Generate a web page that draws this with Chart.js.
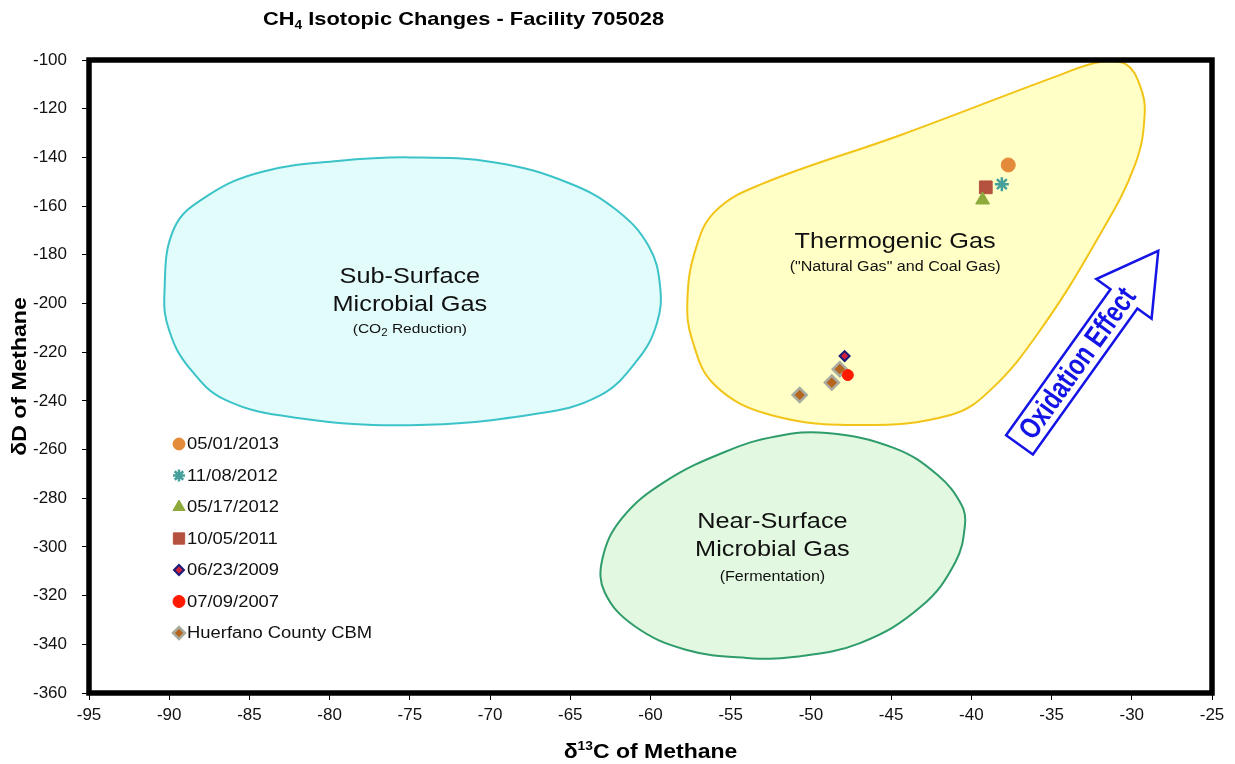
<!DOCTYPE html>
<html>
<head>
<meta charset="utf-8">
<script src="https://cdn.jsdelivr.net/npm/chart.js@4.4.1/dist/chart.umd.min.js"></script>
<style>
  body { margin: 0; background: #fff; }
  #wrap { width: 1235px; height: 764px; }
</style>
</head>
<body>
<div id="wrap"><canvas id="isoChart" width="1235" height="764"></canvas></div>
<script>
// samples as [d13C, dD]
const seriesLabels = ['05/01/2013', '11/08/2012', '05/17/2012', '10/05/2011', '06/23/2009', '07/09/2007', 'Huerfano County CBM'];
const pts20130501 = [[-37.7, -143.1]];
const pts20121108 = [[-38.1, -151.0]];
const pts20120517 = [[-39.3, -157.5]];
const pts20111005 = [[-39.1, -152.3]];
const pts20090623 = [[-47.9, -221.6]];
const pts20070709 = [[-47.7, -229.4]];
const ptsHuerfano = [[-48.2, -227.0], [-48.7, -232.5], [-50.7, -237.6]];

// axis ticks
const xTicks = { min: -95, max: -25, step: 5 };
const yTicks = { min: -360, max: -100, step: 20 };

// genetic fields, outlines (closed loops)
const subSurfaceOutline = [
  [-75, -140], [-69.6, -142.2], [-65.1, -150.5], [-62.1, -161.7], [-60.1, -176.6], [-59.4, -193.1],
  [-59.6, -208.1], [-60.8, -223.1], [-63.2, -238.0], [-67.3, -245.5], [-75, -250], [-82, -247],
  [-86.5, -239.6], [-88.8, -226], [-90, -211.1], [-90.3, -196.1], [-89.7, -169.2], [-87.6, -155.7],
  [-84.2, -145.9], [-79.5, -141.5]
];
const nearSurfaceOutline = [
  [-49.0, -253.2], [-44.8, -259.4], [-42.1, -270.5], [-40.6, -282.9], [-40.4, -291.1], [-41.0, -306.3],
  [-43.1, -324.3], [-46.9, -339.4], [-51.1, -345.2], [-54.0, -345.6], [-57.8, -342.2], [-61.0, -332.5],
  [-62.85, -318.7], [-63.0, -305], [-61.8, -288.4], [-59.1, -273.2], [-55.3, -260.8], [-52.2, -254.6]
];
const thermogenicOutline = [
  [-44.4, -130.8], [-34.5, -106.2], [-32.0, -100.8], [-30.4, -101.6], [-29.5, -110.3], [-29.2, -122.6],
  [-29.8, -143.1], [-32.0, -171.9], [-35.7, -210.9], [-38.8, -235.5], [-41.3, -245.8], [-46.9, -249.9],
  [-52.5, -245.8], [-56.0, -233.5], [-57.4, -215], [-57.7, -198.6], [-57.2, -178.0], [-56.0, -162.4],
  [-53.2, -151.3]
];

const toXY = arr => arr.map(p => ({ x: p[0], y: p[1] }));
const fontFam = "'Liberation Sans', Arial, Helvetica, sans-serif";
const stretch = 1.15; // text in the original is a bit wide

const pointSets = [
  { data: pts20130501, style: 'circle', radius: 7, legR: 6, bg: '#e38b3a', border: '#e38b3a', bw: 1 },
  { data: pts20121108, style: 'star', radius: 7, legR: 6, bg: '#45a09c', border: '#45a09c', bw: 2.5 },
  { data: pts20120517, style: 'triangle', radius: 8, legR: 7, bg: '#8dab3c', border: '#8dab3c', bw: 1 },
  { data: pts20111005, style: 'rect', radius: 9, legR: 8, bg: '#b5523f', border: '#b5523f', bw: 1 },
  { data: pts20090623, style: 'rectRot', radius: 5, legR: 5, bg: '#d0203c', border: '#1c1c78', bw: 2 },
  { data: pts20070709, style: 'circle', radius: 5.5, legR: 6, bg: '#ff1a00', border: '#ff1a00', bw: 1 },
  { data: ptsHuerfano, style: 'rectRot', radius: 7, legR: 6, bg: '#b5651e', border: '#a9aba0', bw: 2.5 }
];

const datasets = pointSets.map((s, i) => ({
  type: 'scatter',
  label: seriesLabels[i],
  data: toXY(s.data),
  pointStyle: s.style,
  pointRadius: s.radius,
  pointBackgroundColor: s.bg,
  pointBorderColor: s.border,
  pointBorderWidth: s.bw,
  showLine: false,
  order: 0
}));

function field(outline, stroke, fill) {
  return {
    type: 'line',
    label: '',
    isField: true,
    data: toXY(outline),
    borderColor: stroke,
    backgroundColor: fill,
    borderWidth: 2,
    fill: 'shape',
    tension: 0.4,
    pointRadius: 0,
    order: 10
  };
}
datasets.push(field(subSurfaceOutline, '#3cc3c8', '#e2fcfc'));
datasets.push(field(thermogenicOutline, '#f2c418', '#ffffc6'));
datasets.push(field(nearSurfaceOutline, '#2f9c6c', '#e2f8e0'));

// text blocks inside the fields, anchored in data units
const fieldText = [
  { x: -75, y: -189, parts: [{ t: 'Sub-Surface', s: 22 }] },
  { x: -75, y: -200.6, parts: [{ t: 'Microbial Gas', s: 22 }] },
  { x: -75, y: -210.5, parts: [{ t: '(CO', s: 13.5 }, { t: '2', s: 10, dy: 4 }, { t: ' Reduction)', s: 13.5 }] },
  { x: -44.75, y: -174.7, parts: [{ t: 'Thermogenic Gas', s: 22 }] },
  { x: -44.75, y: -185, parts: [{ t: '("Natural Gas" and Coal Gas)', s: 14 }] },
  { x: -52.4, y: -289.7, parts: [{ t: 'Near-Surface', s: 22 }] },
  { x: -52.4, y: -301.2, parts: [{ t: 'Microbial Gas', s: 22 }] },
  { x: -52.4, y: -312.3, parts: [{ t: '(Fermentation)', s: 14 }] }
];
const arrowTail = [-37.0, -258.1];
const arrowTip = [-28.35, -178.4];

function richWidth(ctx, parts, bold) {
  let w = 0;
  parts.forEach(p => { ctx.font = `${bold ? 'bold ' : ''}${p.s}px ${fontFam}`; w += ctx.measureText(p.t).width; });
  return w;
}
function drawRich(ctx, parts, x, y, bold, align, sx) {
  ctx.save();
  ctx.translate(x, y);
  ctx.scale(sx, 1);
  let cx = align === 'center' ? -richWidth(ctx, parts, bold) / 2 : 0;
  ctx.textAlign = 'left';
  parts.forEach(p => {
    ctx.font = `${bold ? 'bold ' : ''}${p.s}px ${fontFam}`;
    ctx.fillText(p.t, cx, p.dy || 0);
    cx += ctx.measureText(p.t).width;
  });
  ctx.restore();
}

// close the field outlines into smooth loops
const closeFields = {
  id: 'closeFields',
  afterDatasetUpdate(chart, args) {
    const ds = chart.data.datasets[args.index];
    if (ds.isField && args.meta.dataset) {
      args.meta.dataset._loop = true;
      args.meta.dataset._fullLoop = true;
    }
  }
};

const decor = {
  id: 'decor',
  afterDatasetsDraw(chart) {
    const { ctx, scales: { x, y } } = chart;
    ctx.save();
    ctx.fillStyle = '#111';
    ctx.textBaseline = 'middle';
    fieldText.forEach(f => drawRich(ctx, f.parts, x.getPixelForValue(f.x), y.getPixelForValue(f.y), false, 'center', stretch));

    // oxidation arrow
    const t0 = { x: x.getPixelForValue(arrowTail[0]), y: y.getPixelForValue(arrowTail[1]) };
    const t1 = { x: x.getPixelForValue(arrowTip[0]), y: y.getPixelForValue(arrowTip[1]) };
    const ang = Math.atan2(t1.y - t0.y, t1.x - t0.x);
    const len = Math.hypot(t1.x - t0.x, t1.y - t0.y);
    const sw = 16.5, hw = 34, hl = 59;
    ctx.translate(t0.x, t0.y);
    ctx.rotate(ang);
    ctx.beginPath();
    ctx.moveTo(0, -sw); ctx.lineTo(len - hl, -sw); ctx.lineTo(len - hl, -hw); ctx.lineTo(len, 0);
    ctx.lineTo(len - hl, hw); ctx.lineTo(len - hl, sw); ctx.lineTo(0, sw); ctx.closePath();
    ctx.fillStyle = '#fff'; ctx.fill();
    ctx.strokeStyle = '#1414e6'; ctx.lineWidth = 2.5; ctx.stroke();
    const txt = 'Oxidation Effect';
    ctx.font = `bold 30px ${fontFam}`;
    ctx.fillStyle = '#1414e6';
    ctx.textAlign = 'center';
    ctx.translate(100, 1);
    const tw = ctx.measureText(txt).width;
    ctx.scale(178 / tw, 1);
    ctx.fillText(txt, 0, 0);
    ctx.restore();
  },
  afterDraw(chart) {
    const { ctx, chartArea: a } = chart;
    ctx.save();
    // frame
    ctx.strokeStyle = '#000';
    ctx.lineWidth = 5.5;
    ctx.strokeRect(a.left, a.top, a.right - a.left, a.bottom - a.top);

    // titles
    ctx.fillStyle = '#000';
    ctx.textBaseline = 'alphabetic';
    drawRich(ctx, [{ t: 'CH', s: 19 }, { t: '4', s: 12, dy: 4 }, { t: ' Isotopic Changes - Facility 705028', s: 19 }], 263, 25, true, 'left', stretch);
    drawRich(ctx, [{ t: 'δ', s: 20 }, { t: '13', s: 12, dy: -8 }, { t: 'C of Methane', s: 20 }], (a.left + a.right) / 2, 758, true, 'center', stretch);
    ctx.save();
    ctx.translate(20, (a.top + a.bottom) / 2);
    ctx.rotate(-Math.PI / 2);
    ctx.textBaseline = 'middle';
    drawRich(ctx, [{ t: 'δD of Methane', s: 20 }], 0, 0, true, 'center', stretch);
    ctx.restore();

    // legend inside plot
    ctx.textBaseline = 'middle';
    pointSets.forEach((s, i) => {
      const ly = 444 + i * 31.5;
      ctx.fillStyle = s.bg;
      ctx.strokeStyle = s.border;
      ctx.lineWidth = s.bw;
      Chart.helpers.drawPoint(ctx, { pointStyle: s.style, radius: s.legR, borderWidth: s.bw, rotation: 0 }, 179, ly);
      ctx.fillStyle = '#111';
      drawRich(ctx, [{ t: seriesLabels[i], s: 16 }], 187, ly + 1, false, 'left', stretch);
    });
    ctx.restore();
  }
};

new Chart(document.getElementById('isoChart'), {
  type: 'scatter',
  data: { datasets },
  options: {
    responsive: false,
    animation: false,
    events: [],
    layout: { padding: { top: 60, right: 23, bottom: 0, left: 0 } },
    plugins: { legend: { display: false }, title: { display: false }, tooltip: { enabled: false } },
    scales: {
      x: {
        type: 'linear',
        min: xTicks.min, max: xTicks.max,
        ticks: { stepSize: xTicks.step, color: '#111', font: { family: fontFam, size: 17 }, padding: 5, maxRotation: 0 },
        grid: { drawOnChartArea: false, drawTicks: true, tickLength: 7, color: '#000' },
        border: { display: false },
        afterFit: s => { s.height = 71; }
      },
      y: {
        type: 'linear',
        min: yTicks.min, max: yTicks.max,
        ticks: { stepSize: yTicks.step, color: '#111', font: { family: fontFam, size: 17 }, padding: 15 },
        grid: { drawOnChartArea: false, drawTicks: true, tickLength: 7, color: '#000' },
        border: { display: false },
        afterFit: s => { s.width = 89; }
      }
    }
  },
  plugins: [closeFields, decor]
});
</script>
</body>
</html>
